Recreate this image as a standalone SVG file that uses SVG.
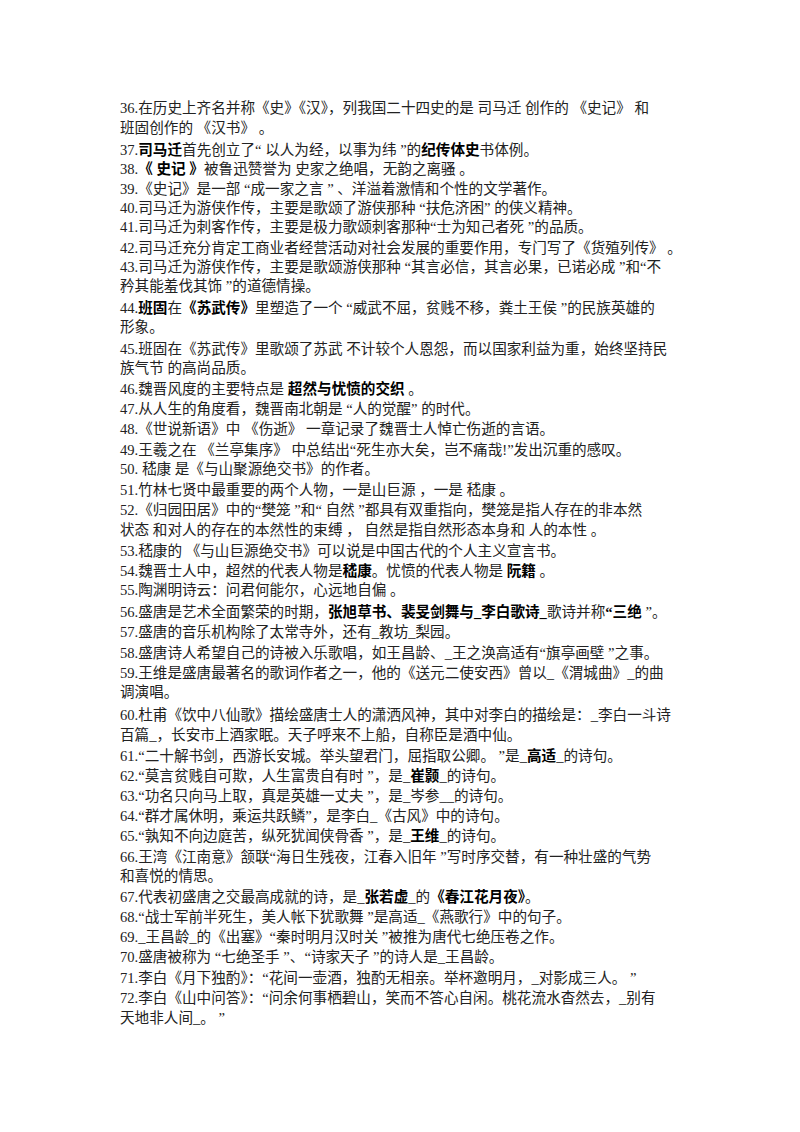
<svg xmlns="http://www.w3.org/2000/svg" width="800" height="1132" viewBox="0 0 800 1132">
<style>
text{font-family:"Liberation Serif","Noto Sans CJK SC",serif;font-size:14.6px;fill:#222}
.b{font-weight:bold;fill:#000}
</style>
<rect width="800" height="1132" fill="#fff"/>
<g id="text">
<text x="120" y="113">36.在历史上齐名并称《史》《汉》，列我国二十四史的是  司马迁  创作的 《史记》  和</text>
<text x="120" y="133">班固创作的  《汉书》  。</text>
<text x="120" y="155">37.<tspan class="b">司马迁</tspan>首先创立了“ 以人为经，以事为纬 ”的<tspan class="b">纪传体史</tspan>书体例。</text>
<text x="120" y="174">38.<tspan class="b">《  史记  》</tspan>被鲁迅赞誉为  史家之绝唱，无韵之离骚  。</text>
<text x="120" y="194">39.《史记》是一部  “成一家之言 ”  、洋溢着激情和个性的文学著作。</text>
<text x="120" y="213">40.司马迁为游侠作传，主要是歌颂了游侠那种  “扶危济困”  的侠义精神。</text>
<text x="120" y="232">41.司马迁为刺客作传，主要是极力歌颂刺客那种“士为知己者死 ”的品质。</text>
<text x="120" y="253">42.司马迁充分肯定工商业者经营活动对社会发展的重要作用，专门写了《货殖列传》  。</text>
<text x="120" y="272">43.司马迁为游侠作传，主要是歌颂游侠那种  “其言必信，其言必果，已诺必成 ”和“不</text>
<text x="120" y="291">矜其能羞伐其饰 ”的道德情操。</text>
<text x="120" y="313">44.<tspan class="b">班固</tspan>在<tspan class="b">《苏武传》</tspan>里塑造了一个  “威武不屈，贫贱不移，粪土王侯 ”的民族英雄的</text>
<text x="120" y="332">形象。</text>
<text x="120" y="354">45.班固在《苏武传》里歌颂了苏武  不计较个人恩怨，而以国家利益为重，始终坚持民</text>
<text x="120" y="373">族气节  的高尚品质。</text>
<text x="120" y="394">46.魏晋风度的主要特点是  <tspan class="b">超然与忧愤的交织</tspan>  。</text>
<text x="120" y="414">47.从人生的角度看，魏晋南北朝是  “人的觉醒”  的时代。</text>
<text x="120" y="434">48.《世说新语》中  《伤逝》  一章记录了魏晋士人悼亡伤逝的言语。</text>
<text x="120" y="455">49.王羲之在  《兰亭集序》   中总结出“死生亦大矣，岂不痛哉!”发出沉重的感叹。</text>
<text x="120" y="474">50.   嵇康  是《与山聚源绝交书》的作者。</text>
<text x="120" y="495">51.竹林七贤中最重要的两个人物，一是山巨源  ，一是  嵇康  。</text>
<text x="120" y="515">52.《归园田居》中的“樊笼 ”和“ 自然 ”都具有双重指向，樊笼是指人存在的非本然</text>
<text x="120" y="535">状态  和对人的存在的本然性的束缚  ，  自然是指自然形态本身和  人的本性  。</text>
<text x="120" y="556">53.嵇康的  《与山巨源绝交书》可以说是中国古代的个人主义宣言书。</text>
<text x="120" y="576">54.魏晋士人中，超然的代表人物是<tspan class="b">嵇康</tspan>。忧愤的代表人物是  <tspan class="b">阮籍</tspan>  。</text>
<text x="120" y="595">55.陶渊明诗云：问君何能尔，心远地自偏  。</text>
<text x="120" y="617">56.盛唐是艺术全面繁荣的时期，<tspan class="b">张旭草书、裴旻剑舞与_李白歌诗_</tspan>歌诗并称<tspan class="b">“三绝</tspan> ”。</text>
<text x="120" y="637">57.盛唐的音乐机构除了太常寺外，还有_教坊_梨园。</text>
<text x="120" y="658">58.盛唐诗人希望自己的诗被入乐歌唱，如王昌龄、_王之涣高适有“旗亭画壁 ”之事。</text>
<text x="120" y="678">59.王维是盛唐最著名的歌词作者之一，他的《送元二使安西》曾以_《渭城曲》_的曲</text>
<text x="120" y="697">调演唱。</text>
<text x="120" y="720">60.杜甫《饮中八仙歌》描绘盛唐士人的潇洒风神，其中对李白的描绘是：_李白一斗诗</text>
<text x="120" y="740">百篇_，长安市上酒家眠。天子呼来不上船，自称臣是酒中仙。</text>
<text x="120" y="761">61.“二十解书剑，西游长安城。举头望君门，屈指取公卿。 ”是_<tspan class="b">高适</tspan>_的诗句。</text>
<text x="120" y="781">62.“莫言贫贱自可欺，人生富贵自有时 ”，是_<tspan class="b">崔颢</tspan>_的诗句。</text>
<text x="120" y="801">63.“功名只向马上取，真是英雄一丈夫 ”，是_岑参__的诗句。</text>
<text x="120" y="821">64.“群才属休明，乘运共跃鳞”，是李白_《古风》中的诗句。</text>
<text x="120" y="841">65.“孰知不向边庭苦，纵死犹闻侠骨香 ”，是_<tspan class="b">王维</tspan>_的诗句。</text>
<text x="120" y="862">66.王湾《江南意》颔联“海日生残夜，江春入旧年 ”写时序交替，有一种壮盛的气势</text>
<text x="120" y="881">和喜悦的情思。</text>
<text x="120" y="902">67.代表初盛唐之交最高成就的诗，是_<tspan class="b">张若虚</tspan>_的<tspan class="b">《春江花月夜》</tspan>。</text>
<text x="120" y="922">68.“战士军前半死生，美人帐下犹歌舞 ”是高适_《燕歌行》中的句子。</text>
<text x="120" y="942">69._王昌龄_的《出塞》“秦时明月汉时关 ”被推为唐代七绝压卷之作。</text>
<text x="120" y="962">70.盛唐被称为  “七绝圣手 ”、“诗家天子 ”的诗人是_王昌龄。</text>
<text x="120" y="983">71.李白《月下独酌》：“花间一壶酒，独酌无相亲。举杯邀明月，_对影成三人。 ”</text>
<text x="120" y="1003">72.李白《山中问答》：“问余何事栖碧山，笑而不答心自闲。桃花流水杳然去，_别有</text>
<text x="120" y="1023">天地非人间_。 ”</text>
</g>
</svg>
